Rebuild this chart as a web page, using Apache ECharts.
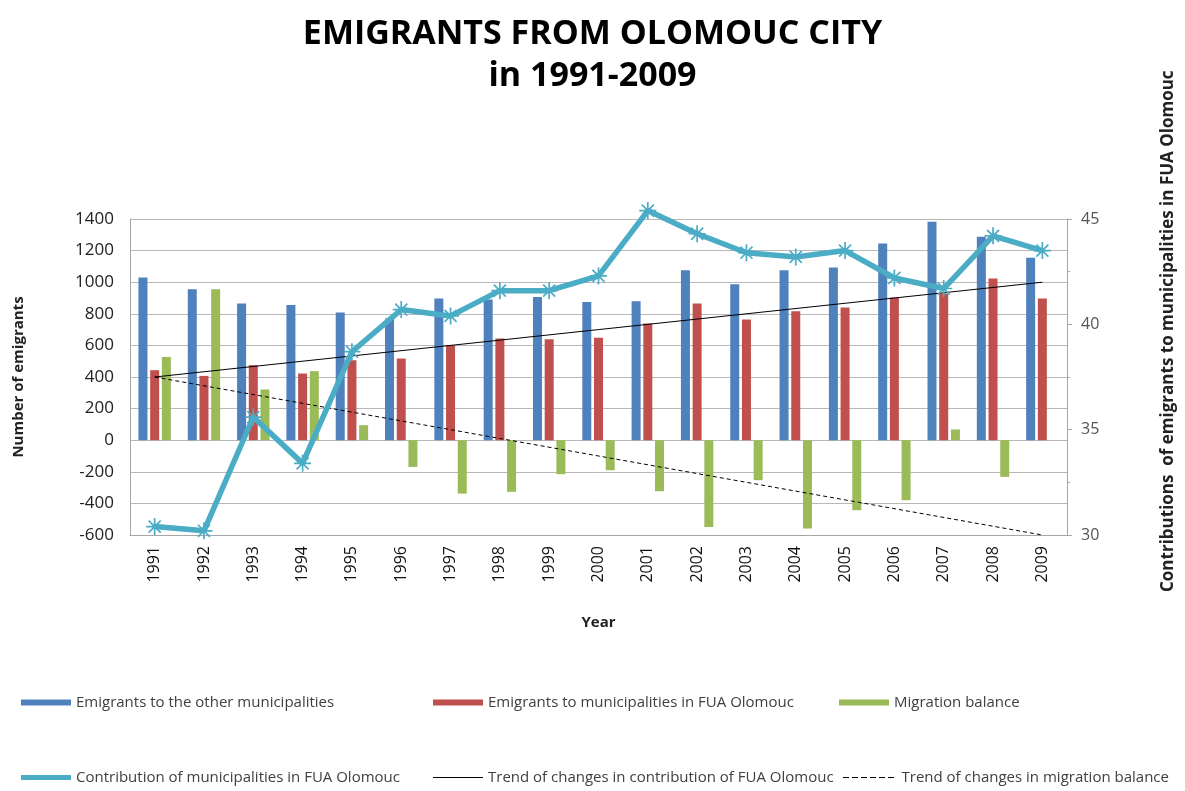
<!DOCTYPE html>
<html>
<head>
<meta charset="utf-8">
<script src="https://cdn.jsdelivr.net/npm/echarts@6/dist/echarts.min.js"></script>
<style>
  html, body { margin: 0; padding: 0; background: #fff; }
  #chart { width: 1185px; height: 791px; }
</style>
</head>
<body>
<div id="chart"></div>
<script>
var years = ['1991', '1992', '1993', '1994', '1995', '1996', '1997', '1998', '1999', '2000',
             '2001', '2002', '2003', '2004', '2005', '2006', '2007', '2008', '2009'];
var otherMunicipalities = [1030, 955, 865, 855, 808, 770, 897, 890, 907, 875,
                           880, 1076, 987, 1076, 1093, 1245, 1382, 1287, 1154];
var fuaMunicipalities = [443, 407, 475, 422, 506, 517, 601, 643, 639, 648,
                         738, 865, 764, 816, 840, 903, 928, 1023, 897];
var migrationBalance = [527, 955, 321, 437, 95, -169, -338, -327, -215, -190,
                        -323, -549, -253, -559, -443, -380, 68, -232, 0];
var contribution = [30.4, 30.2, 35.6, 33.4, 38.7, 40.7, 40.4, 41.6, 41.6, 42.3,
                    45.4, 44.3, 43.4, 43.2, 43.5, 42.2, 41.7, 44.2, 43.5];
// trend lines, read at first and last year
var contributionTrend = [['1991', 37.5], ['2009', 42.0]];
var balanceTrend = [['1991', 400], ['2009', -600]];

var leftTicks = { min: -600, max: 1400, interval: 200 };
var rightTicks = { min: 30, max: 45, interval: 5 };

var asterisk = 'path://M9,0h2v20h-2z M0,9h20v2h-20z M2.2,3.6l1.4-1.4l14.2,14.2l-1.4,1.4z M16.4,2.2l1.4,1.4l-14.2,14.2l-1.4-1.4z';
var solidIcon = 'path://M0,0h50v1.2h-50z';
var dashedIcon = 'path://M0,0h6v1.2h-6z M9,0h6v1.2h-6z M18,0h6v1.2h-6z M27,0h6v1.2h-6z M36,0h6v1.2h-6z M45,0h6v1.2h-6z';
var txt = '#404040';
var font = 'Open Sans';

function legendAt(name, left, top, extra) {
    var l = {
        data: [name],
        left: left,
        top: top,
        itemWidth: 50,
        itemHeight: 6,
        textStyle: { color: txt, fontFamily: font, fontSize: 15 },
        selectedMode: false
    };
    for (var k in extra) l[k] = extra[k];
    return l;
}

var chart = echarts.init(document.getElementById('chart'));
chart.setOption({
    backgroundColor: '#fff',
    animation: false,
    title: {
        text: 'EMIGRANTS FROM OLOMOUC CITY\nin 1991-2009',
        left: 'center',
        top: 8,
        textStyle: { fontFamily: font, fontWeight: 'bold', fontSize: 34, lineHeight: 42, color: '#000' }
    },
    legend: [
        legendAt('Emigrants to the other municipalities', 16, 690, { icon: 'rect' }),
        legendAt('Emigrants to municipalities in FUA Olomouc', 428, 690, { icon: 'rect' }),
        legendAt('Migration balance', 834, 690, { icon: 'rect' }),
        legendAt('Contribution of municipalities in FUA Olomouc', 16, 765, { icon: 'rect', itemHeight: 5 }),
        legendAt('Trend of changes in contribution of FUA Olomouc', 428, 765, { icon: solidIcon, itemHeight: 1.2 }),
        legendAt('Trend of changes in migration balance', 838, 765, { icon: dashedIcon, itemWidth: 56, itemHeight: 1.2 })
    ],
    grid: { left: 130, right: 118, top: 219, bottom: 256 },
    xAxis: {
        type: 'category',
        data: years,
        name: 'Year',
        nameLocation: 'middle',
        nameGap: 80,
        nameTextStyle: { fontFamily: font, fontWeight: 'bold', fontSize: 15, color: '#222' },
        axisLine: { onZero: false, lineStyle: { color: '#a6a6a6' } },
        axisTick: { show: false },
        axisLabel: { rotate: 90, fontFamily: font, fontSize: 16, color: '#111', margin: 11 }
    },
    yAxis: [{
        type: 'value',
        min: leftTicks.min,
        max: leftTicks.max,
        interval: leftTicks.interval,
        name: 'Number of emigrants',
        nameLocation: 'middle',
        nameGap: 104,
        nameTextStyle: { fontFamily: font, fontWeight: 'bold', fontSize: 15, color: '#222' },
        axisLine: { show: true, lineStyle: { color: '#a6a6a6' } },
        axisTick: { show: false },
        axisLabel: { fontFamily: font, fontSize: 17, color: '#222', margin: 16, formatter: function (v) { return String(v); } },
        splitLine: { lineStyle: { color: '#b8b8b8' } }
    }, {
        type: 'value',
        min: rightTicks.min,
        max: rightTicks.max,
        interval: rightTicks.interval,
        position: 'right',
        axisLine: { show: true, lineStyle: { color: '#a6a6a6' } },
        axisTick: { show: true, length: 5, lineStyle: { color: '#a6a6a6' } },
        minorTick: { show: true, splitNumber: 2, length: 3 },
        axisLabel: { fontFamily: font, fontSize: 16, color: '#555', margin: 14 },
        splitLine: { show: false }
    }],
    graphic: [{
        type: 'text',
        x: 1168,
        y: 592,
        rotation: Math.PI / 2,
        style: {
            text: 'Contributions  of emigrants to municipalities in FUA Olomouc',
            font: 'bold 17px "Open Sans"',
            fill: '#222',
            align: 'left',
            verticalAlign: 'middle'
        }
    }],
    series: [{
        name: 'Emigrants to the other municipalities',
        type: 'bar',
        data: otherMunicipalities,
        barWidth: 9,
        barGap: '30%',
        itemStyle: { color: '#4f81bd' }
    }, {
        name: 'Emigrants to municipalities in FUA Olomouc',
        type: 'bar',
        data: fuaMunicipalities,
        barWidth: 9,
        barGap: '30%',
        itemStyle: { color: '#c0504d' }
    }, {
        name: 'Migration balance',
        type: 'bar',
        data: migrationBalance,
        barWidth: 9,
        barGap: '30%',
        itemStyle: { color: '#9bbb59' }
    }, {
        name: 'Contribution of municipalities in FUA Olomouc',
        type: 'line',
        yAxisIndex: 1,
        data: contribution,
        clip: false,
        symbol: asterisk,
        symbolSize: 17,
        z: 5,
        lineStyle: { color: '#4bacc6', width: 5.5 },
        itemStyle: { color: '#4bacc6' }
    }, {
        name: 'Trend of changes in contribution of FUA Olomouc',
        type: 'line',
        yAxisIndex: 1,
        data: contributionTrend,
        symbol: 'none',
        z: 4,
        lineStyle: { color: '#000', width: 1 },
        itemStyle: { color: '#000' }
    }, {
        name: 'Trend of changes in migration balance',
        type: 'line',
        data: balanceTrend,
        symbol: 'none',
        z: 4,
        lineStyle: { color: '#000', width: 1, type: [4, 3] },
        itemStyle: { color: '#000' }
    }]
});
</script>
</body>
</html>
